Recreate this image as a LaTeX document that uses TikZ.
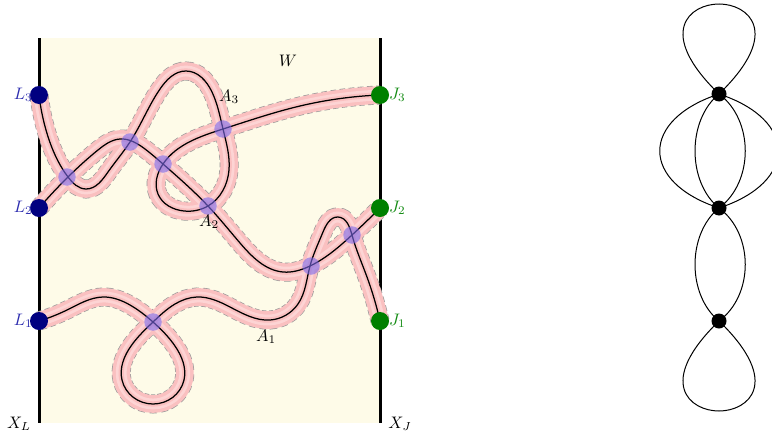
\documentclass[tikz,border=0pt]{standalone}
\usetikzlibrary{hobby}
\definecolor{cream}{RGB}{254,251,232}
\definecolor{bandpink}{RGB}{250,192,192}
\definecolor{bandlight}{RGB}{253,212,212}
\definecolor{navydot}{RGB}{0,0,128}
\definecolor{greendot}{RGB}{0,128,0}
\definecolor{lblue}{RGB}{45,45,175}
\definecolor{jgreen}{RGB}{20,140,20}
\definecolor{lilac}{RGB}{125,105,235}
\begin{document}
\begin{tikzpicture}[x=0.6pt,y=-0.6pt,
  ldot/.style={circle,fill=navydot,inner sep=0pt,minimum size=10.8pt},
  jdot/.style={circle,fill=greendot,inner sep=0pt,minimum size=10.8pt},
  gdot/.style={circle,fill=black,inner sep=0pt,minimum size=9pt},
  xdot/.style={circle,fill=lilac,fill opacity=0.6,inner sep=0pt,minimum size=10.5pt},
  llab/.style={text=lblue,anchor=east,inner sep=0pt},
  jlab/.style={text=jgreen,anchor=west,inner sep=0pt},
  bandout/.style={draw=gray!80,dash pattern=on 3.4pt off 2pt,line width=11.4pt},
  bandmid/.style={draw=bandpink,line width=10.6pt},
  bandin/.style={draw=bandlight,line width=6.5pt},
  bandcore/.style={draw=bandpink,line width=3.2pt},
  curve/.style={draw=black,line width=0.75pt},
  wall/.style={draw=black,line width=1.8pt},
  gedge/.style={draw=black,line width=0.6pt}]
\useasboundingbox (0,0) rectangle (772,434);
\fill[cream] (39,38) rectangle (380,423);
\coordinate (wl1) at (39,38); \coordinate (wl2) at (39,423);
\coordinate (wr1) at (380,38); \coordinate (wr2) at (380,423);
\draw[wall] (wl1) -- (wl2);
\draw[wall] (wr1) -- (wr2);
\coordinate (L3) at (39,95); \coordinate (L2) at (39,208); \coordinate (L1) at (39,321);
\coordinate (J3) at (380,95); \coordinate (J2) at (380,208); \coordinate (J1) at (380,321);
\def\pathA{(L3) .. (46,130) .. (68,177) .. (86,189) .. (108,172) .. (130,142) .. (160,89) .. (186,71) .. (212,92) .. (223,129) .. (229,170) .. (208,206) .. (184,211) .. (158,194) .. (163,164) .. (223,129) .. (300,106) .. (J3)}
\def\pathB{(L2) .. (68,177) .. (98,150) .. (120,139) .. (145,149) .. (163,164) .. (208,206) .. (240,243) .. (283,272) .. (310,266) .. (352,235) .. (J2)}
\def\pathC{(L1) .. (67,310) .. (103,297) .. (130,305) .. (153,322) .. (175,346) .. (184,380) .. (153,404) .. (122,380) .. (131,346) .. (153,322) .. (175,304) .. (197,297) .. (230,307) .. (270,320) .. (298,304) .. (310,266) .. (323,232) .. (338,217) .. (352,235) .. (367,277) .. (J1)}
\foreach \s in {bandout,bandmid,bandin,bandcore,curve}{
  \path[\s,use Hobby shortcut] \pathA;
  \path[\s,use Hobby shortcut] \pathB;
  \path[\s,use Hobby shortcut] \pathC;}
\node[xdot] (c1) at (67,177) {};
\node[xdot] (c2) at (130,142) {};
\node[xdot] (c3) at (163,164) {};
\node[xdot] (c4) at (223,129) {};
\node[xdot] (c5) at (208,206) {};
\node[xdot] (c6) at (153,322) {};
\node[xdot] (c7) at (311,266) {};
\node[xdot] (c8) at (352,235) {};
\node[ldot] (nL3) at (L3) {};
\node[ldot] (nL2) at (L2) {};
\node[ldot] (nL1) at (L1) {};
\node[jdot] (nJ3) at (J3) {};
\node[jdot] (nJ2) at (J2) {};
\node[jdot] (nJ1) at (J1) {};
\node[llab] (tL3) at ([xshift=-3.6pt]L3) {$L_3$};
\node[llab] (tL2) at ([xshift=-3.6pt]L2) {$L_2$};
\node[llab] (tL1) at ([xshift=-3.6pt]L1) {$L_1$};
\node[jlab] (tJ3) at ([xshift=5.2pt]J3) {$J_3$};
\node[jlab] (tJ2) at ([xshift=5.2pt]J2) {$J_2$};
\node[jlab] (tJ1) at ([xshift=5.2pt]J1) {$J_1$};
\node (tW) at (288,61) {$W$};
\node (tA3) at (229,97) {$A_3$};
\node (tA2) at (209,222) {$A_2$};
\node (tA1) at (266,337) {$A_1$};
\node (tXL) at (19,424) {$X_L$};
\node (tXJ) at (400,424) {$X_J$};
% right graph
\node[gdot] (T) at (719,94) {};
\node[gdot] (M) at (719,208) {};
\node[gdot] (B) at (719,321) {};
\draw[gedge] (T.center) .. controls (655,32) and (690,4) .. (719,4) .. controls (748,4) and (783,32) .. (T.center);
\draw[gedge] (B.center) .. controls (655,383) and (690,411) .. (719,411) .. controls (748,411) and (783,383) .. (B.center);
\draw[gedge] (T.center) .. controls (640,120) and (640,182) .. (M.center);
\draw[gedge] (T.center) .. controls (687,120) and (687,182) .. (M.center);
\draw[gedge] (T.center) .. controls (754,120) and (754,182) .. (M.center);
\draw[gedge] (T.center) .. controls (798,120) and (798,182) .. (M.center);
\draw[gedge] (M.center) .. controls (687,234) and (687,295) .. (B.center);
\draw[gedge] (M.center) .. controls (754,234) and (754,295) .. (B.center);
\end{tikzpicture}
\end{document}
